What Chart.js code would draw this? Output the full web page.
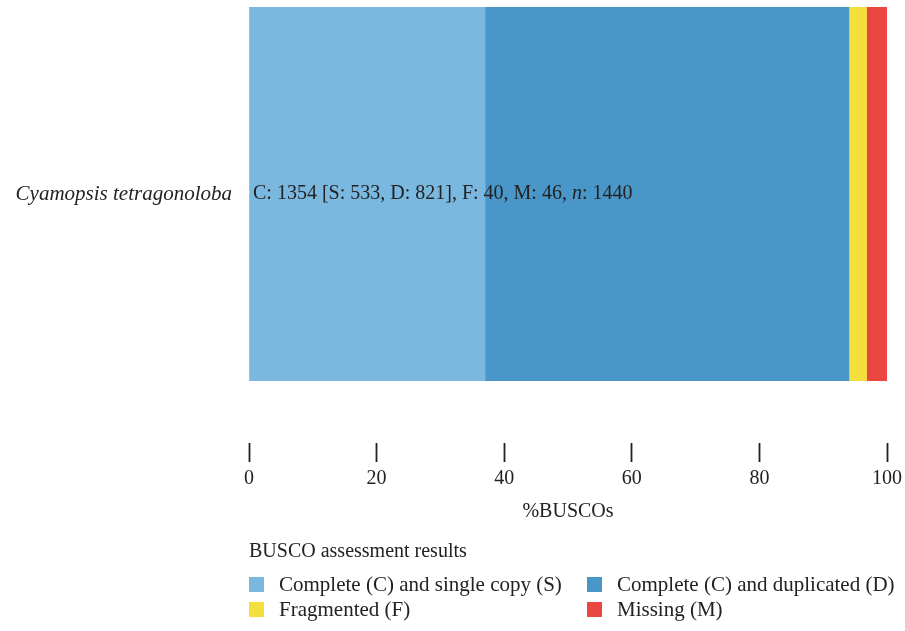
<!DOCTYPE html>
<html>
<head>
<meta charset="utf-8">
<script src="https://cdn.jsdelivr.net/npm/chart.js@4"></script>
<style>
  html, body { margin: 0; padding: 0; background: #fff; }
  #wrap { position: relative; width: 905px; height: 631px; }
  #legend { position: absolute; left: 249px; top: 537px; font: 20px "Liberation Serif", serif; color: #222; }
  #legend .ttl { height: 26px; line-height: 26px; margin-bottom: 9px; }
  #legend .row { position: relative; height: 25px; line-height: 25px; font-size: 21px; }
  #legend .item { position: absolute; top: 0; white-space: nowrap; }
  #legend .box { position: absolute; top: 5px; width: 15px; height: 15px; }
  #legend .txt { position: absolute; left: 30px; }
</style>
</head>
<body>
<div id="wrap">
  <canvas id="c" width="905" height="631"></canvas>
  <div id="legend"></div>
</div>
<script>
// ---- данные ----
const species   = ["Cyamopsis tetragonoloba"];
const seriesNames = ["Complete (C) and single copy (S)", "Complete (C) and duplicated (D)", "Fragmented (F)", "Missing (M)"];
const seriesColors = ["#7ab8e0", "#4996c8", "#f3df3d", "#e9473f"];
const counts    = [533, 821, 40, 46];   // S, D, F, M
const total     = 1440;
const xTicks    = [0, 20, 40, 60, 80, 100];

const FONT = "'Liberation Serif', serif";

// подпись внутри полосы: C: 1354 [S: 533, D: 821], F: 40, M: 46, n: 1440
const summaryLabel = {
  id: "summaryLabel",
  afterDatasetsDraw(chart) {
    const { ctx, scales } = chart;
    const [s, d, f, m] = counts;
    const parts = [
      [`C: ${s + d} [S: ${s}, D: ${d}], F: ${f}, M: ${m}, `, "normal"],
      ["n", "italic"],
      [`: ${total}`, "normal"],
    ];
    let x = scales.x.getPixelForValue(0) + 4;
    const y = scales.y.getPixelForValue(0);
    ctx.save();
    ctx.fillStyle = "#222";
    ctx.textBaseline = "middle";
    for (const [txt, style] of parts) {
      ctx.font = `${style} 20px ${FONT}`;
      ctx.fillText(txt, x, y);
      x += ctx.measureText(txt).width;
    }
    ctx.restore();
  }
};

const chart = new Chart(document.getElementById("c"), {
  type: "bar",
  data: {
    labels: species,
    datasets: seriesNames.map((name, i) => ({
      label: name,
      data: [counts[i] / total * 100],
      backgroundColor: seriesColors[i],
      borderWidth: 0,
      categoryPercentage: 1,
      barPercentage: 1,
    })),
  },
  options: {
    indexAxis: "y",
    responsive: false,
    animation: false,
    layout: { padding: { top: 7, right: 18, bottom: 107, left: 0 } },
    plugins: { legend: { display: false }, tooltip: { enabled: false } },
    scales: {
      x: {
        stacked: true,
        min: 0, max: 100,
        afterBuildTicks: axis => { axis.ticks = xTicks.map(v => ({ value: v })); },
        afterFit: axis => { axis.height = 143; axis.paddingLeft = 0; axis.paddingRight = 0; },
        border: { display: false },
        grid: {
          drawOnChartArea: false,
          tickLength: 81,
          tickBorderDash: [0, 62, 19, 200],
          tickColor: "#222",
          tickWidth: 1.8,
        },
        ticks: { color: "#222", padding: 5, font: { family: FONT, size: 20 } },
        title: { display: true, text: "%BUSCOs", color: "#222", padding: 0, font: { family: FONT, size: 20 } },
      },
      y: {
        stacked: true,
        afterFit: axis => { axis.width = 249; axis.paddingTop = 0; axis.paddingBottom = 0; },
        border: { display: false },
        grid: { display: false },
        ticks: { color: "#222", padding: 9, font: { family: FONT, size: 21, style: "italic" } },
      },
    },
  },
  plugins: [summaryLabel],
});

// легенда в две колонки, как в исходнике
(function buildLegend() {
  const el = document.getElementById("legend");
  const colX = [0, 338];
  let html = `<div class="ttl">BUSCO assessment results</div>`;
  const ds = chart.data.datasets;
  for (let r = 0; r < 2; r++) {
    html += `<div class="row">`;
    for (let c = 0; c < 2; c++) {
      const d = ds[r * 2 + c];
      html += `<div class="item" style="left:${colX[c]}px"><span class="box" style="background:${d.backgroundColor}"></span><span class="txt">${d.label}</span></div>`;
    }
    html += `</div>`;
  }
  el.innerHTML = html;
})();
</script>
</body>
</html>
